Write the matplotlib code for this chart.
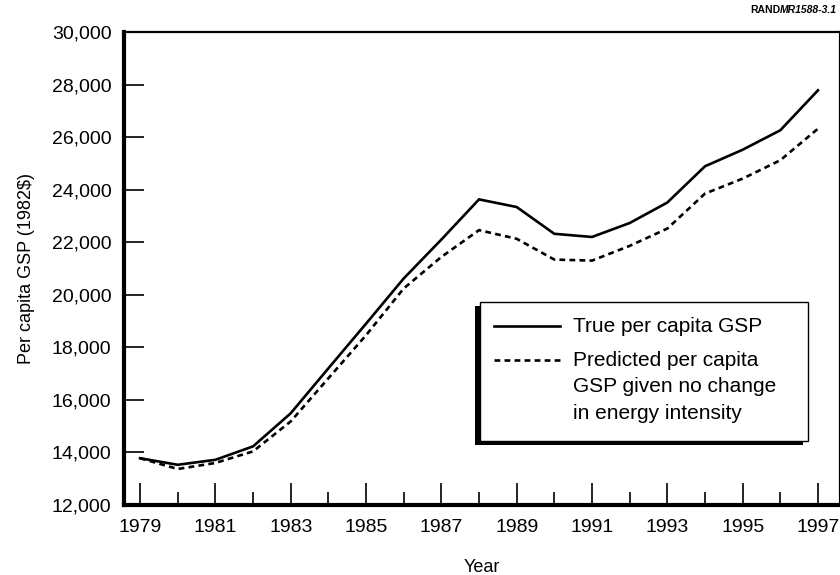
import matplotlib
matplotlib.use('Agg')
import matplotlib.pyplot as plt
from matplotlib.patches import Rectangle
from matplotlib.lines import Line2D

plt.rcParams['font.family'] = ['Liberation Sans', 'DejaVu Sans']

# ---- data ----
years = list(range(1979, 1998))
true_gsp = [13780, 13530, 13720, 14230, 15490, 17200, 18900, 20620, 22100, 23630,
            23340, 22320, 22200, 22730, 23510, 24890, 25520, 26260, 27780]
pred_gsp = [13780, 13370, 13600, 14040, 15180, 16820, 18460, 20240, 21440, 22460,
            22130, 21340, 21300, 21860, 22520, 23850, 24420, 25120, 26320]
ytick_vals = list(range(12000, 30001, 2000))
odd_years = years[::2]
even_years = years[1::2]

W, H = 840, 575
fig = plt.figure(figsize=(W / 100, H / 100), dpi=100)


def fx(px):
    return px / W


def fy(py):
    return 1 - py / H


ax = fig.add_axes([fx(124), fy(505), fx(840) - fx(124), fy(32) - fy(505)])

ax.plot(years, true_gsp, color='black', lw=1.9, solid_joinstyle='miter')
ax.plot(years, pred_gsp, color='black', lw=1.9, linestyle=(0, (2.2, 1.6)))

ax.set_xlim(1978.574, 1997.585)
ax.set_ylim(12000, 30000)

ax.set_yticks(ytick_vals)
ax.set_yticklabels([f'{v:,}' for v in ytick_vals])
ax.set_xticks(odd_years)
ax.set_xticklabels([str(y) for y in odd_years])
ax.set_xticks(even_years, minor=True)

ax.tick_params(axis='y', direction='in', length=14.5, width=1.2, labelsize=14, pad=9)
ax.tick_params(axis='x', which='major', direction='in', length=16, width=1.2,
               labelsize=14, pad=10)
ax.tick_params(axis='x', which='minor', direction='in', length=9.5, width=1.2)

for side, lw in [('left', 3.0), ('bottom', 3.0), ('top', 1.6), ('right', 1.6)]:
    ax.spines[side].set_linewidth(lw)

ax.set_xlabel('Year', fontsize=13, labelpad=17)
ax.set_ylabel('Per capita GSP (1982$)', fontsize=13, labelpad=12)

# ---- legend box with drop shadow (drawn by hand) ----
bx0, by0, bx1, by1 = 480, 302, 808, 441
fig.add_artist(Rectangle((fx(bx0 - 5), fy(by1 + 4)), fx(bx1 - bx0), fy(by0) - fy(by1),
                         transform=fig.transFigure, facecolor='black', edgecolor='none',
                         zorder=5))
fig.add_artist(Rectangle((fx(bx0), fy(by1)), fx(bx1 - bx0), fy(by0) - fy(by1),
                         transform=fig.transFigure, facecolor='white', edgecolor='black',
                         lw=1.0, zorder=6))
fig.add_artist(Line2D([fx(494), fx(560)], [fy(326), fy(326)], color='black', lw=1.9,
                      transform=fig.transFigure, zorder=7))
fig.add_artist(Line2D([fx(494), fx(560)], [fy(360), fy(360)], color='black', lw=1.9,
                      linestyle=(0, (2.2, 1.6)), transform=fig.transFigure, zorder=7))
fig.text(fx(573), fy(326), 'True per capita GSP', fontsize=15, ha='left', va='center',
         zorder=8)
fig.text(fx(573), fy(351), 'Predicted per capita\nGSP given no change\nin energy intensity',
         fontsize=15, ha='left', va='top', linespacing=1.5, zorder=8)

# ---- figure id, top right ----
t_mr = fig.text(fx(837), fy(10), 'MR1588-3.1', fontsize=7.5, fontweight='bold',
                style='italic', ha='right', va='center')
fig.canvas.draw()
mr_left = t_mr.get_window_extent().x0
fig.text(mr_left / W, fy(10), 'RAND', fontsize=7.5, fontweight='bold',
         ha='right', va='center')

fig.savefig('out.png', dpi=100)
